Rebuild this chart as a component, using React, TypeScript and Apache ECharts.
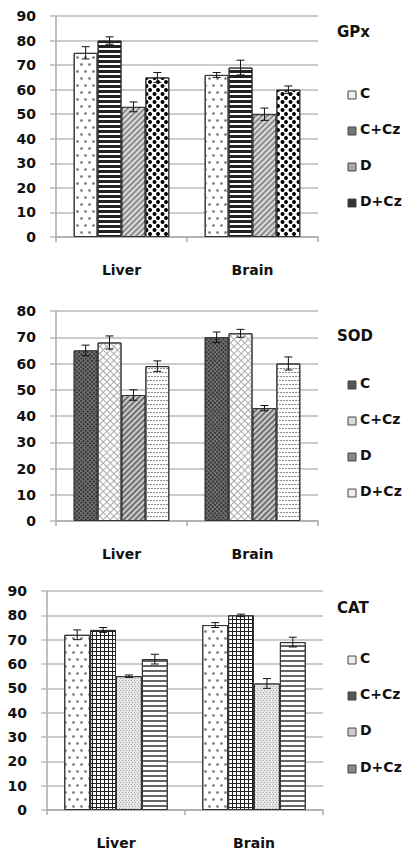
import React, { useEffect, useRef } from "react";
import * as echarts from "echarts";

const categories = ["Liver", "Brain"];
const groups = ["C", "C+Cz", "D", "D+Cz"];

const gpxValues = [
  [75, 66],
  [80, 69],
  [53, 50],
  [65, 60],
];
const gpxErrors = [
  [2.5, 1],
  [1.5, 3],
  [2, 2.5],
  [2, 1.5],
];
const sodValues = [
  [65, 70],
  [68, 71.5],
  [48, 43],
  [59, 60],
];
const sodErrors = [
  [2, 2],
  [2.5, 1.5],
  [2, 1],
  [2, 2.5],
];
const catValues = [
  [72, 76],
  [74, 80],
  [55, 52],
  [62, 69],
];
const catErrors = [
  [2, 1],
  [1, 0.5],
  [0.5, 2],
  [2, 2],
];
const panelTitles = ["GPx", "SOD", "CAT"];
const yMax = [90, 80, 90];

const FONT = "DejaVu Sans";

const dots = { symbol: "circle", symbolSize: 0.9, color: "#777", backgroundColor: "#fff", dashArrayX: [[3, 5], [0, 4, 3, 1]], dashArrayY: [3, 4] };
const hStripesDark = { symbol: "rect", symbolSize: 1, color: "#222", backgroundColor: "#fff", dashArrayX: [1, 0], dashArrayY: [3, 2] };
const zigzag = { symbol: "rect", symbolSize: 1, color: "#dcdcdc", backgroundColor: "#8c8c8c", dashArrayX: [1, 0], dashArrayY: [2, 2], rotation: -Math.PI / 4 };
const blackDots = { symbol: "circle", symbolSize: 1, color: "#000", backgroundColor: "#fff", dashArrayX: [[5, 3], [0, 4, 4, 0]], dashArrayY: [4, 0] };

const darkHatch = { symbol: "rect", symbolSize: 1, color: "#777", backgroundColor: "#333", dashArrayX: [[1, 0], [1, 2], [1, 2]], dashArrayY: [1, 0], rotation: Math.PI / 4 };
const lightLattice = { symbol: "rect", symbolSize: 1, color: "#aaa", backgroundColor: "#fff", dashArrayX: [[1, 0], [1, 4], [1, 4], [1, 4], [1, 4]], dashArrayY: [1, 0], rotation: Math.PI / 4 };
const zigzagDark = { symbol: "rect", symbolSize: 1, color: "#cccccc", backgroundColor: "#707070", dashArrayX: [1, 0], dashArrayY: [2, 2], rotation: -Math.PI / 4 };
const waves = { symbol: "rect", symbolSize: 1, color: "#888", backgroundColor: "#fff", dashArrayX: [[2, 1], [0, 1, 2, 0]], dashArrayY: [1, 3] };

const grid = { symbol: "rect", symbolSize: 1, color: "#222", backgroundColor: "#fff", dashArrayX: [[1, 0], [1, 3], [1, 3], [1, 3]], dashArrayY: [1, 0] };
const fineDots = { symbol: "rect", symbolSize: 1, color: "#aaa", backgroundColor: "#e6e6e6", dashArrayX: [[1, 2], [0, 2, 1, 0]], dashArrayY: [1, 1] };
const hStripesGray = { symbol: "rect", symbolSize: 1, color: "#666", backgroundColor: "#fff", dashArrayX: [1, 0], dashArrayY: [2, 3] };

const panelDecals = [
  [dots, hStripesDark, zigzag, blackDots],
  [darkHatch, lightLattice, zigzagDark, waves],
  [dots, grid, fineDots, hStripesGray],
];
const legendFills = [
  ["#eee", "#777", "#aaa", "#333"],
  ["#555", "#ddd", "#888", "#eee"],
  ["#eee", "#555", "#ccc", "#888"],
];

const gridsLayout = [
  { left: 56, right: 93, top: 16, height: 221, gap: 0.27 },
  { left: 56, right: 93, top: 311, height: 210, gap: 0.27 },
  { left: 47, right: 88, top: 591, height: 219, gap: 0.25 },
];
const titleY = [33, 337, 609];
const legendY = [
  [95, 131, 167, 203],
  [385, 421, 457, 493],
  [660, 696, 732, 769],
];

export default function App() {
  const ref = useRef<HTMLDivElement>(null);
  useEffect(() => {
    document.body.style.margin = "0";
    const chart = echarts.init(ref.current!, null, { renderer: "svg" });
    const allValues = [gpxValues, sodValues, catValues];
    const allErrors = [gpxErrors, sodErrors, catErrors];

    const grids: any[] = [];
    const xAxes: any[] = [];
    const yAxes: any[] = [];
    const series: any[] = [];
    const graphics: any[] = [];

    for (let p = 0; p < 3; p++) {
      const g = gridsLayout[p];
      grids.push({ left: g.left, right: g.right, top: g.top, height: g.height });
      xAxes.push({
        type: "category",
        gridIndex: p,
        data: categories,
        axisLine: { show: true, lineStyle: { color: "#aaa", width: 1.5 } },
        axisTick: { show: true, length: 5, lineStyle: { color: "#aaa", width: 1.5 } },
        axisLabel: { color: "#111", fontFamily: FONT, fontWeight: "bold", fontSize: 14, margin: 26 },
        splitLine: { show: false },
      });
      yAxes.push({
        type: "value",
        gridIndex: p,
        min: 0,
        max: yMax[p],
        interval: 10,
        axisLine: { show: true, lineStyle: { color: "#aaa", width: 1.5 } },
        axisTick: { show: true, length: 6, lineStyle: { color: "#bbb", width: 1.5 } },
        axisLabel: { color: "#111", fontFamily: FONT, fontWeight: "bold", fontSize: 14, margin: 20 },
        splitLine: { show: true, lineStyle: { color: "#bbb", width: 1.5 } },
      });
      for (let s = 0; s < 4; s++) {
        const decal = panelDecals[p][s];
        series.push({
          type: "bar",
          name: groups[s],
          xAxisIndex: p,
          yAxisIndex: p,
          barGap: "0%",
          barCategoryGap: Math.round(g.gap * 100) + "%",
          data: allValues[p][s],
          itemStyle: { color: decal.backgroundColor, borderColor: "#333", borderWidth: 1, decal },
          emphasis: { disabled: true },
        });
      }
      for (let s = 0; s < 4; s++) {
        const idx = s;
        const gap = g.gap;
        series.push({
          type: "custom",
          xAxisIndex: p,
          yAxisIndex: p,
          z: 10,
          data: allValues[p][s].map((v, i) => [i, v, allErrors[p][s][i]]),
          renderItem: (params: any, api: any) => {
            const cat = api.value(0);
            const v = api.value(1);
            const e = api.value(2);
            const band = api.size([1, 0])[0];
            const barW = (band * (1 - gap)) / 4;
            const x = api.coord([cat, v])[0] + (idx - 1.5) * barW;
            const yt = api.coord([cat, v + e])[1];
            const yb = api.coord([cat, v - e])[1];
            const cap = 4;
            const style = { stroke: "#111", lineWidth: 1 };
            return {
              type: "group",
              children: [
                { type: "line", shape: { x1: x, y1: yt, x2: x, y2: yb }, style },
                { type: "line", shape: { x1: x - cap, y1: yt, x2: x + cap, y2: yt }, style },
                { type: "line", shape: { x1: x - cap, y1: yb, x2: x + cap, y2: yb }, style },
              ],
            };
          },
        });
      }
      graphics.push({
        type: "text",
        left: 337,
        top: titleY[p] - 9,
        style: { text: panelTitles[p], fill: "#111", font: `bold 15px "${FONT}"` },
      });
      for (let s = 0; s < 4; s++) {
        graphics.push({
          type: "rect",
          shape: { x: 348, y: legendY[p][s] - 4, width: 8, height: 8 },
          style: { fill: legendFills[p][s], stroke: "#444", lineWidth: 1 },
        });
        graphics.push({
          type: "text",
          left: 360,
          top: legendY[p][s] - 9,
          style: { text: groups[s], fill: "#111", font: `bold 14px "${FONT}"` },
        });
      }
    }

    chart.setOption({
      animation: false,
      backgroundColor: "#fff",
      grid: grids,
      xAxis: xAxes,
      yAxis: yAxes,
      series,
      graphic: graphics,
      tooltip: { show: false },
    });
    return () => chart.dispose();
  }, []);
  return <div ref={ref} style={{ width: 411, height: 852 }} />;
}
